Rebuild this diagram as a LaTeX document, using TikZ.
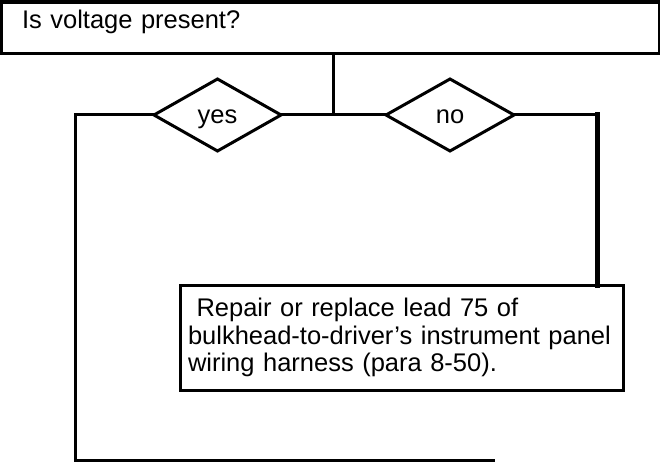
\documentclass[tikz,border=0pt]{standalone}
\usepackage{fontspec}
\setmainfont{Liberation Sans}
\usetikzlibrary{shapes.geometric}
\begin{document}
\begin{tikzpicture}[x=1pt,y=-1pt,
  txt/.style={font=\fontsize{25.5}{27.7}\selectfont},
  ln/.style={line width=3pt},
  qbox/.style={txt, draw, ln, rectangle, inner xsep=20.5pt, inner ysep=0pt,
    text width=616.5pt, align=left, text height=27pt, text depth=24.5pt, outer sep=0pt},
  dia/.style={txt, draw, ln, diamond, inner sep=0pt, outer sep=0pt,
    minimum width=127pt, minimum height=72pt, text height=18pt, text depth=0pt},
  abox/.style={txt, draw, ln, rectangle, inner xsep=8pt, inner ysep=0pt,
    text width=427pt, align=left, minimum width=443pt, minimum height=105pt, outer sep=0pt}
]
\useasboundingbox (0,0) rectangle (660,462);
\node[qbox] (q) at (330.25,27.75) {Is voltage present?};
\draw[line width=4.5pt] (q.north west) -- (q.north east);

\node[dia] (yes) at (217.5,115) {yes};
\node[dia, minimum width=128pt] (no) at (450,115) {no};

\node[abox] (r) at (401.5,337.5) {~Repair or replace lead 75 of\\
bulkhead-to-driver’s instrument panel\\
wiring harness (para 8-50).};

\coordinate (j) at (333,115);
\coordinate (lc) at (75,115);
\coordinate (be) at (495,460);
\coordinate (rc) at (597,115);

\draw[ln] (q.south -| j) -- (j);
\draw[ln] (yes.east) -- (no.west);
\draw[ln] (yes.west) -- (lc) |- (be);
\draw[ln] (no.east) -- (rc);
\draw[line width=5pt, line cap=rect] (rc) -- (rc |- r.north);
\end{tikzpicture}
\end{document}
